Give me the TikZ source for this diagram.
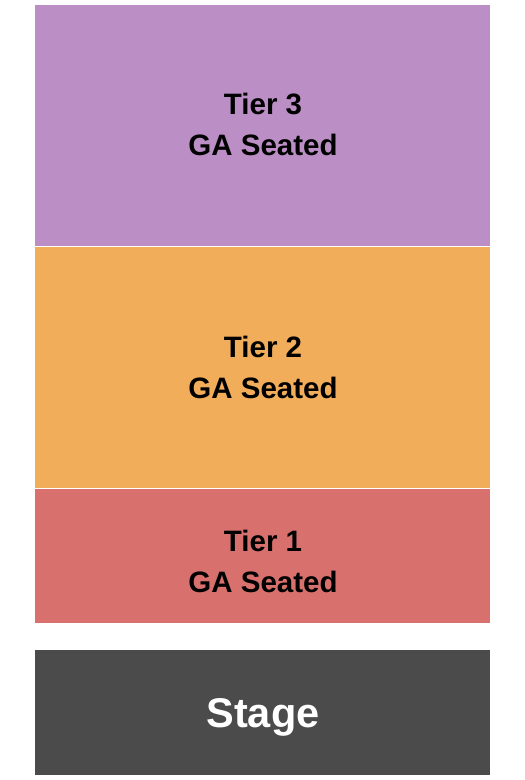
\documentclass[tikz,border=0pt]{standalone}
\usepackage{fontspec}
\setmainfont{Liberation Sans}
\usetikzlibrary{positioning}
\definecolor{tierthree}{HTML}{BB8FC5}
\definecolor{tiertwo}{HTML}{F2AD5A}
\definecolor{tierone}{HTML}{D8706E}
\definecolor{stagegrey}{HTML}{4B4B4B}
\tikzstyle{zone} = [draw=none, inner sep=0pt, minimum width=455pt, anchor=north west]
\tikzstyle{tiertext} = [align=center, text=black, font=\bfseries\fontsize{29.5}{41}\selectfont]

\begin{document}
\begin{tikzpicture}[x=1pt, y=-1pt]
      \useasboundingbox (0,0) rectangle (525,780);
      % Blocks
      \node[zone, fill=tierthree, minimum height=240.5pt] (T3) at (35,5) {};
      \node[zone, fill=tiertwo, minimum height=241.5pt] (T2) at (35,246.5) {};
      \node[zone, fill=tierone, minimum height=134pt] (T1) at (35,488.8) {};
      \node[zone, fill=stagegrey, minimum height=125pt] (S) at (35,650) {};
      
      % Labels
      \node[tiertext] (L3) at (263,124.5) {Tier 3\\GA Seated};
      \node[tiertext] (L2) at (263,367.5) {Tier 2\\GA Seated};
      \node[tiertext] (L1) at (263,561.5) {Tier 1\\GA Seated};
      \node[text=white, font=\bfseries\fontsize{41.5}{49}\selectfont] (LS) at (263,717) {Stage};
  \end{tikzpicture}
\end{document}
